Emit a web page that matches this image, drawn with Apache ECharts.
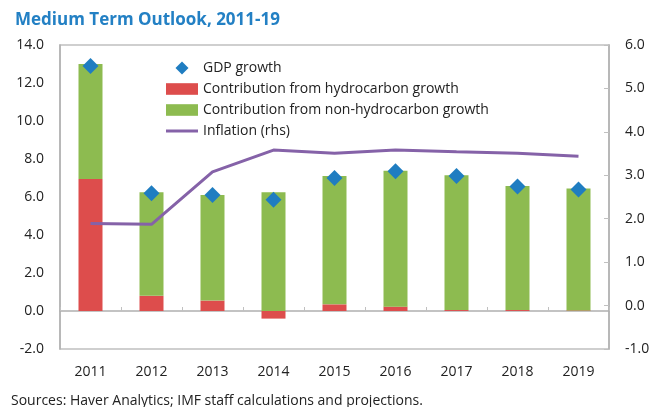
<!DOCTYPE html>
<html>
<head>
<meta charset="utf-8">
<script src="https://cdn.jsdelivr.net/npm/echarts@6/dist/echarts.min.js"></script>
<style>
html,body{margin:0;padding:0;background:#fff;}
#chart{width:655px;height:407px;}
</style>
</head>
<body>
<div id="chart"></div>
<script>
var categories = ['2011','2012','2013','2014','2015','2016','2017','2018','2019'];
var gdpGrowth = [12.9, 6.2, 6.1, 5.85, 7.0, 7.35, 7.1, 6.55, 6.4];
var hydrocarbon = [6.95, 0.8, 0.55, -0.4, 0.35, 0.23, 0.05, 0.05, 0.03];
var nonHydrocarbon = [6.05, 5.45, 5.55, 6.25, 6.75, 7.15, 7.1, 6.53, 6.42];
var inflation = [1.89, 1.87, 3.08, 3.58, 3.51, 3.58, 3.54, 3.51, 3.44];
var leftTicks = {min: -2, max: 14, interval: 2};
var rightTicks = {min: -1, max: 6, interval: 1};

var FONT = '"Open Sans", "Noto Sans", sans-serif';
var ICON_DIAMOND = 'path://M0,0 M32,14 M9.5,7 L16,0.5 L22.5,7 L16,13.5 Z';
var ICON_RECT = 'path://M0,0 M32,14 M0,1.2 L32,1.2 L32,12.8 L0,12.8 Z';
var ICON_LINE = 'path://M0,0 M32,14 M0,5.5 L32,5.5 L32,8.5 L0,8.5 Z';

var chart = echarts.init(document.getElementById('chart'));
chart.setOption({
  animation: false,
  textStyle: {fontFamily: FONT},
  title: {
    text: 'Medium Term Outlook, 2011-19',
    left: 10, top: 7,
    textStyle: {fontFamily: FONT, fontWeight: 'bold', fontSize: 17, color: '#2380c4'}
  },
  legend: {
    orient: 'vertical',
    left: 161, top: 56,
    itemWidth: 32, itemHeight: 14, itemGap: 7,
    textStyle: {fontFamily: FONT, fontSize: 14, color: '#222'},
    data: [
      {name: 'GDP growth', icon: ICON_DIAMOND, itemStyle: {color: '#1f7dc1', opacity: 1}},
      {name: 'Contribution from hydrocarbon growth', icon: ICON_RECT},
      {name: 'Contribution from non-hydrocarbon growth', icon: ICON_RECT},
      {name: 'Inflation (rhs)', icon: ICON_LINE, itemStyle: {color: '#8562a8'}}
    ]
  },
  grid: {left: 60, right: 46, top: 45, bottom: 58, show: true, borderColor: '#c0c0c0', borderWidth: 1.5},
  xAxis: [
    {
      type: 'category', data: categories, position: 'bottom',
      axisLine: {show: false, onZero: false},
      axisTick: {show: false},
      axisLabel: {fontSize: 14, color: '#222', margin: 16, fontFamily: FONT}
    },
    {
      type: 'category', data: categories, position: 'bottom',
      axisLine: {show: true, onZero: true, onZeroAxisIndex: 0, lineStyle: {color: '#b0b0b0', width: 1.5}},
      axisTick: {show: true, inside: true, length: 4, lineStyle: {color: '#c0c0c0'}},
      axisLabel: {show: false}
    }
  ],
  yAxis: [
    {
      type: 'value', min: leftTicks.min, max: leftTicks.max, interval: leftTicks.interval,
      axisLine: {show: true, lineStyle: {color: '#b0b0b0', width: 1.5}},
      axisTick: {show: false},
      splitLine: {show: false},
      axisLabel: {fontSize: 14, color: '#222', margin: 16, fontFamily: FONT, formatter: function(v){return v.toFixed(1);}}
    },
    {
      type: 'value', min: rightTicks.min, max: rightTicks.max, interval: rightTicks.interval,
      position: 'right',
      axisLine: {show: true, lineStyle: {color: '#b0b0b0', width: 1.5}},
      axisTick: {show: true, inside: true, length: 5, lineStyle: {color: '#c0c0c0'}},
      splitLine: {show: false},
      axisLabel: {fontSize: 14, color: '#222', margin: 16, fontFamily: FONT, formatter: function(v){return v.toFixed(1);}}
    }
  ],
  series: [
    {
      name: 'Contribution from hydrocarbon growth', type: 'bar', stack: 'g',
      barWidth: 24, data: hydrocarbon, itemStyle: {color: '#dd4d4c'}, z: 2
    },
    {
      name: 'Contribution from non-hydrocarbon growth', type: 'bar', stack: 'g',
      barWidth: 24, data: nonHydrocarbon, itemStyle: {color: '#8dbb50'}, z: 2
    },
    {
      name: 'Inflation (rhs)', type: 'line', yAxisIndex: 1, data: inflation,
      symbol: 'none', lineStyle: {color: '#8562a8', width: 3}, itemStyle: {color: '#8562a8'}, z: 4
    },
    {
      name: 'GDP growth', type: 'scatter', data: gdpGrowth, symbol: 'diamond', symbolSize: 16,
      itemStyle: {color: '#1f7dc1', opacity: 1}, z: 5
    }
  ],
  graphic: [
    {
      type: 'text', left: 11, top: 394,
      style: {text: 'Sources: Haver Analytics; IMF staff calculations and projections.', fontSize: 14, fill: '#222', fontFamily: FONT}
    }
  ]
});
</script>
</body>
</html>
